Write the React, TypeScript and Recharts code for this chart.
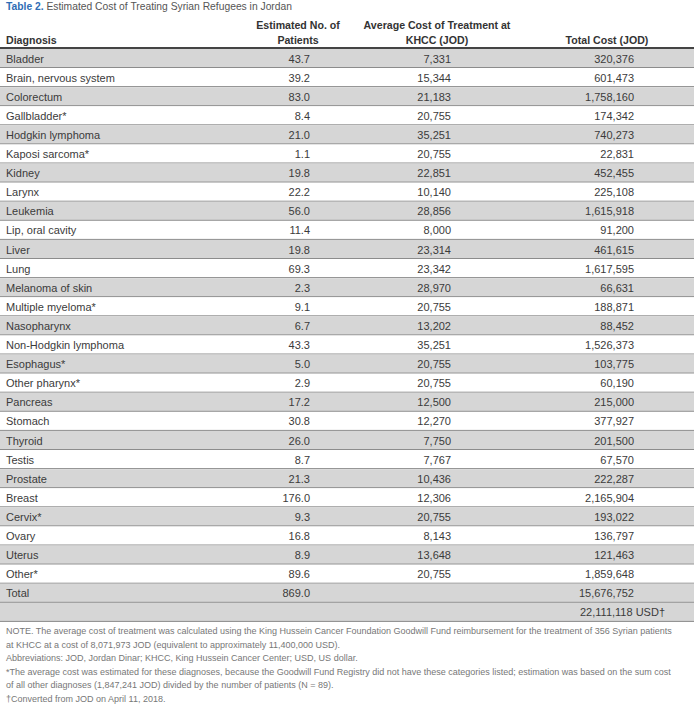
import React from 'react';
import { BarChart, Bar, XAxis, YAxis, LabelList } from 'recharts';

const diagnoses = [
  'Bladder', 'Brain, nervous system', 'Colorectum', 'Gallbladder*', 'Hodgkin lymphoma',
  'Kaposi sarcoma*', 'Kidney', 'Larynx', 'Leukemia', 'Lip, oral cavity', 'Liver', 'Lung',
  'Melanoma of skin', 'Multiple myeloma*', 'Nasopharynx', 'Non-Hodgkin lymphoma',
  'Esophagus*', 'Other pharynx*', 'Pancreas', 'Stomach', 'Thyroid', 'Testis', 'Prostate',
  'Breast', 'Cervix*', 'Ovary', 'Uterus', 'Other*',
];
const patients = [
  43.7, 39.2, 83.0, 8.4, 21.0, 1.1, 19.8, 22.2, 56.0, 11.4, 19.8, 69.3, 2.3, 9.1, 6.7, 43.3,
  5.0, 2.9, 17.2, 30.8, 26.0, 8.7, 21.3, 176.0, 9.3, 16.8, 8.9, 89.6,
];
const avgCost = [
  7331, 15344, 21183, 20755, 35251, 20755, 22851, 10140, 28856, 8000, 23314, 23342, 28970,
  20755, 13202, 35251, 20755, 20755, 12500, 12270, 7750, 7767, 10436, 12306, 20755, 8143,
  13648, 20755,
];
const totalCost = [
  320376, 601473, 1758160, 174342, 740273, 22831, 452455, 225108, 1615918, 91200, 461615,
  1617595, 66631, 188871, 88452, 1526373, 103775, 60190, 215000, 377927, 201500, 67570,
  222287, 2165904, 193022, 136797, 121463, 1859648,
];
const totalPatients = 869.0;
const totalJod = 15676752;
const totalUsd = 22111118;

const notes = [
  'NOTE. The average cost of treatment was calculated using the King Hussein Cancer Foundation Goodwill Fund reimbursement for the treatment of 356 Syrian patients',
  'at KHCC at a cost of 8,071,973 JOD (equivalent to approximately 11,400,000 USD).',
  'Abbreviations: JOD, Jordan Dinar; KHCC, King Hussein Cancer Center; USD, US dollar.',
  '*The average cost was estimated for these diagnoses, because the Goodwill Fund Registry did not have these categories listed; estimation was based on the sum cost',
  'of all other diagnoses (1,847,241 JOD) divided by the number of patients (N = 89).',
  '\u2020Converted from JOD on April 11, 2018.',
];

const fmt = (n: number) => n.toLocaleString('en-US');

const rows = [
  ...diagnoses.map((d, i) => ({
    id: 'r' + i,
    diagnosis: d,
    patients: patients[i].toFixed(1),
    avg: fmt(avgCost[i]),
    total: fmt(totalCost[i]),
    usd: '',
    band: 1,
  })),
  { id: 'total', diagnosis: 'Total', patients: totalPatients.toFixed(1), avg: '', total: fmt(totalJod), usd: '', band: 1 },
  { id: 'usd', diagnosis: '', patients: '', avg: '', total: '', usd: fmt(totalUsd) + ' USD\u2020', band: 1 },
];

const FONT = '"Liberation Sans", Arial, sans-serif';
const TEXT = '#3b3b3b';
const ROW_H = 19.1;
const CHART_H = ROW_H * rows.length;

const RowShape = (props: any) => {
  const { x, y, width, height, index } = props;
  const gray = index % 2 === 0 || index >= rows.length - 2;
  return (
    <g>
      <rect x={x} y={y} width={width} height={height} fill={gray ? '#d6d6d6' : '#ffffff'} />
      <line x1={x} x2={x + width} y1={y + height - 0.5} y2={y + height - 0.5} stroke="#8c8c8c" strokeWidth={1} />
    </g>
  );
};

const cell = (cx: number, anchor: 'start' | 'end' | 'middle') => (props: any) => {
  const { y, height, value } = props;
  if (value === '' || value == null) return null;
  return (
    <text x={cx} y={y + height / 2 + 4} textAnchor={anchor} fill={TEXT} fontSize={11} fontFamily={FONT}>
      {value}
    </text>
  );
};

const headStyle: React.CSSProperties = {
  position: 'absolute',
  fontWeight: 'bold',
  fontSize: 10.6,
  color: '#333',
  lineHeight: '15px',
  whiteSpace: 'nowrap',
};

export default function App() {
  return (
    <div style={{ position: 'absolute', left: 0, top: 0, width: 694, height: 706, background: '#fff', fontFamily: FONT, overflow: 'hidden' }}>
      <div style={{ position: 'absolute', left: 6, top: 1, fontSize: 10.3, color: '#555', whiteSpace: 'nowrap' }}>
        <span style={{ color: '#2f6db5', fontWeight: 'bold' }}>Table 2.</span> Estimated Cost of Treating Syrian Refugees in Jordan
      </div>
      <div style={{ ...headStyle, left: 6, top: 33 }}>Diagnosis</div>
      <div style={{ ...headStyle, left: 238, width: 120, top: 18, textAlign: 'center' }}>
        Estimated No. of<br />Patients
      </div>
      <div style={{ ...headStyle, left: 357, width: 160, top: 18, textAlign: 'center' }}>
        Average Cost of Treatment at<br />KHCC (JOD)
      </div>
      <div style={{ ...headStyle, left: 547, width: 120, top: 33, textAlign: 'center' }}>Total Cost (JOD)</div>
      <div style={{ position: 'absolute', left: 0, top: 47, width: 694, height: 2, background: '#444' }} />
      <div style={{ position: 'absolute', left: 0, top: 49 }}>
        <BarChart
          width={694}
          height={CHART_H}
          data={rows}
          layout="vertical"
          margin={{ top: 0, right: 0, bottom: 0, left: 0 }}
          barCategoryGap={0}
        >
          <XAxis type="number" domain={[0, 1]} hide />
          <YAxis type="category" dataKey="id" hide width={0} />
          <Bar dataKey="band" shape={RowShape} isAnimationActive={false}>
            <LabelList dataKey="diagnosis" content={cell(6, 'start')} />
            <LabelList dataKey="patients" content={cell(310, 'end')} />
            <LabelList dataKey="avg" content={cell(451, 'end')} />
            <LabelList dataKey="total" content={cell(634, 'end')} />
            <LabelList dataKey="usd" content={cell(580, 'start')} />
          </Bar>
        </BarChart>
      </div>
      <div style={{ position: 'absolute', left: 6, top: 625, fontSize: 9, color: '#777', lineHeight: '13.6px', whiteSpace: 'nowrap' }}>
        {notes.map((n) => (
          <div key={n}>{n}</div>
        ))}
      </div>
    </div>
  );
}
